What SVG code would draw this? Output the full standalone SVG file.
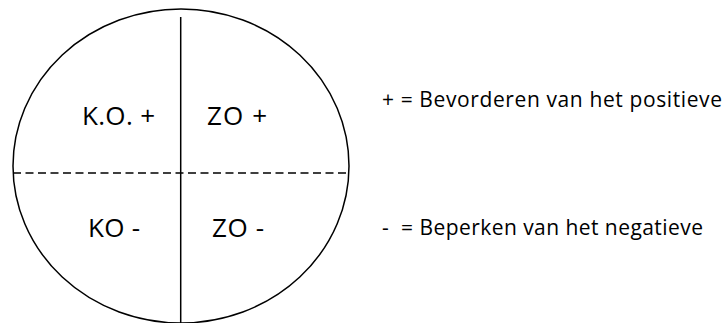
<svg xmlns="http://www.w3.org/2000/svg" width="728" height="323" viewBox="0 0 728 323">
<style>
.shape{fill:none;stroke:#000;stroke-width:1.5}
.dash{fill:none;stroke:#000;stroke-width:1.5;stroke-dasharray:8 4.5}
.lbl{font-family:"Open Sans","Noto Sans",sans-serif;font-size:26px;fill:#000}
.leg{font-family:"Open Sans","Noto Sans",sans-serif;font-size:21px;fill:#000}
</style>
<rect width="728" height="323" fill="#fff"/>
<g id="circle"><ellipse class="shape" cx="181" cy="166" rx="168" ry="157"/></g>
<g id="connectors">
<line class="shape" x1="180.7" y1="17" x2="180.7" y2="323"/>
<line class="dash" x1="13" y1="173" x2="349" y2="173"/>
</g>
<g id="ko-plus"><text class="lbl" x="82" y="125" textLength="73">K.O. +</text></g>
<g id="zo-plus"><text class="lbl" x="207" y="125" textLength="60">ZO +</text></g>
<g id="ko-min"><text class="lbl" x="88" y="237" textLength="52">KO -</text></g>
<g id="zo-min"><text class="lbl" x="212" y="237" textLength="52">ZO -</text></g>
<g id="legend-plus"><text class="leg" x="382" y="107" textLength="340">+ = Bevorderen van het positieve</text></g>
<g id="legend-min"><text class="leg" x="382" y="235" textLength="321" xml:space="preserve">-  = Beperken van het negatieve</text></g>
</svg>
